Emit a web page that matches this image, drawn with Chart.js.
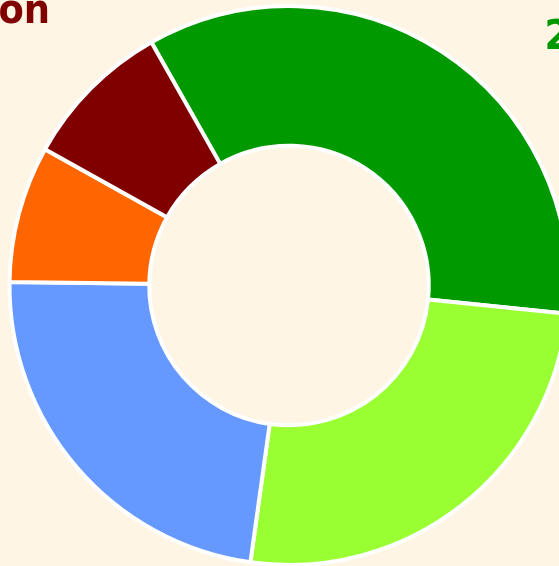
<!DOCTYPE html>
<html>
<head>
<meta charset="utf-8">
<script src="https://cdn.jsdelivr.net/npm/chart.js@4/dist/chart.umd.min.js"></script>
<style>
  html, body { margin: 0; padding: 0; background: #fff5e4; overflow: hidden; width: 559px; height: 566px; }
  #wrap { position: absolute; left: 0; top: 0; width: 600px; height: 600px; }
</style>
</head>
<body>
<div id="wrap"><canvas id="chart" width="600" height="600"></canvas></div>
<script>
// slice data, clockwise from the top-left boundary
const labels = ['A', 'B', 'C', 'D', 'E'];
const values = [34.8, 25.6, 23.0, 7.9, 8.7];
const colors = ['#009900', '#99ff33', '#6699ff', '#ff6600', '#800000'];

// cropped texts visible at the picture edges
const cornerTexts = [
    { text: 'on', x: -1.5, y: 23.3, color: '#800000' },
    { text: '2', x: 544.5, y: 49, color: '#009900' }
];

const textPlugin = {
    id: 'cornerTexts',
    afterDraw(chart) {
        const ctx = chart.ctx;
        ctx.save();
        ctx.font = 'bold 41px "DejaVu Sans Condensed", "DejaVu Sans", sans-serif';
        ctx.textAlign = 'left';
        ctx.textBaseline = 'alphabetic';
        for (const t of cornerTexts) {
            ctx.fillStyle = t.color;
            ctx.fillText(t.text, t.x, t.y);
        }
        ctx.restore();
    }
};

new Chart(document.getElementById('chart').getContext('2d'), {
    type: 'doughnut',
    data: {
        labels,
        datasets: [{
            data: values,
            backgroundColor: colors,
            borderColor: '#ffffff',
            borderWidth: 4,
            hoverOffset: 0
        }]
    },
    options: {
        responsive: false,
        animation: false,
        rotation: -29.5,
        radius: 279.5,
        cutout: '50%',
        layout: { padding: { left: 0, top: 0, right: 22, bottom: 29 } },
        plugins: {
            legend: { display: false },
            tooltip: { enabled: false },
            title: { display: false }
        }
    },
    plugins: [textPlugin]
});
</script>
</body>
</html>
